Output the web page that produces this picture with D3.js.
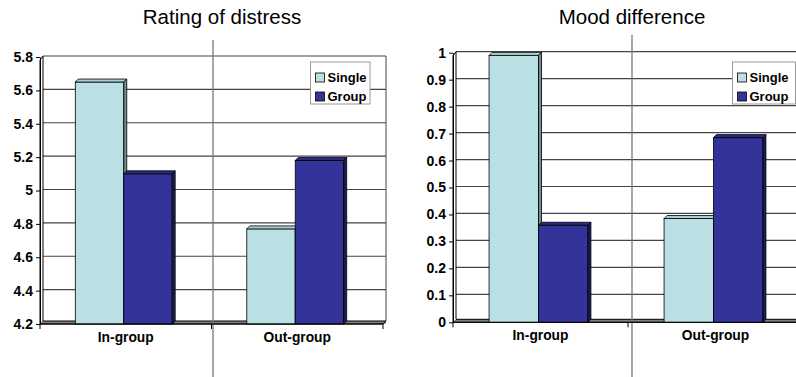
<!DOCTYPE html>
<html>
<head>
<meta charset="utf-8">
<script src="https://cdn.jsdelivr.net/npm/d3@7"></script>
<style>
  body { margin: 0; background: #fff; }
  svg { display: block; font-family: "Liberation Sans", Arial, sans-serif; }
</style>
</head>
<body>
<div id="chart"></div>
<script>
const categories = ["In-group", "Out-group"];
const series = ["Single", "Group"];
const distressSingle = [5.65, 4.77];
const distressGroup = [5.10, 5.18];
const moodSingle = [0.99, 0.385];
const moodGroup = [0.36, 0.685];
const distressTicks = [4.2, 4.4, 4.6, 4.8, 5, 5.2, 5.4, 5.6, 5.8];
const moodTicks = [0, 0.1, 0.2, 0.3, 0.4, 0.5, 0.6, 0.7, 0.8, 0.9, 1];

const colors = {
  Single: { front: "#bbe0e3", top: "#a9cfd2", side: "#6e8c8e" },
  Group: { front: "#333399", top: "#2b2b85", side: "#1c1c55" }
};
const depth = 3;

var svg = d3.select("#chart")
  .append("svg")
  .attr("width", 796)
  .attr("height", 377);

function drawChart(cfg) {
  var g = svg.append("g");

  var y = d3.scaleLinear().domain(cfg.domain).range([cfg.bottom, cfg.top]);
  var x0 = d3.scaleBand().domain(categories).range([cfg.left, cfg.right]);
  var x1 = d3.scaleBand().domain(series).range([0, x0.bandwidth()])
    .paddingInner(0).paddingOuter(0.77);

  // title
  g.append("text")
    .attr("x", cfg.titleX)
    .attr("y", 24)
    .attr("text-anchor", "middle")
    .style("font-size", "20.5px")
    .text(cfg.title);

  // back wall gridlines
  g.selectAll(".grid")
    .data(cfg.ticks)
    .enter().append("line")
    .attr("x1", cfg.left + depth)
    .attr("x2", cfg.right + depth)
    .attr("y1", d => y(d) - 1)
    .attr("y2", d => y(d) - 1)
    .attr("stroke", "#444")
    .attr("stroke-width", 1.2);

  // right edge of back wall
  g.append("line")
    .attr("x1", cfg.right + depth).attr("x2", cfg.right + depth)
    .attr("y1", cfg.top - 1).attr("y2", cfg.bottom - depth)
    .attr("stroke", "#444");

  // floor
  g.append("path")
    .attr("d", `M${cfg.left},${cfg.bottom} L${cfg.left + depth},${cfg.bottom - depth} L${cfg.right + depth},${cfg.bottom - depth} L${cfg.right},${cfg.bottom} Z`)
    .attr("fill", "#808080")
    .attr("stroke", "#000")
    .attr("stroke-width", 1);

  // left wall
  g.append("path")
    .attr("d", `M${cfg.left},${cfg.bottom} L${cfg.left},${cfg.top + depth} L${cfg.left + depth},${cfg.top - 1} L${cfg.left + depth},${cfg.bottom - depth}`)
    .attr("fill", "#fff")
    .attr("stroke", "#000")
    .attr("stroke-width", 1);

  // vertical separator line
  g.append("line")
    .attr("x1", cfg.sepX).attr("x2", cfg.sepX)
    .attr("y1", cfg.sepTop).attr("y2", 377)
    .attr("stroke", "#777")
    .attr("stroke-width", 1.3);

  // bars
  var rows = [];
  categories.forEach((c, i) => {
    series.forEach(s => rows.push({ cat: c, s: s, v: cfg.values[s][i] }));
  });

  var bars = g.selectAll(".bar")
    .data(rows)
    .enter().append("g");

  bars.each(function (d) {
    var bx = x0(d.cat) + x1(d.s) - 2;
    var bw = x1.bandwidth();
    var by = y(d.v);
    var yb = y(cfg.domain[0]);
    var sel = d3.select(this);
    sel.append("rect")
      .attr("x", bx).attr("y", by)
      .attr("width", bw).attr("height", yb - by)
      .attr("fill", colors[d.s].front)
      .attr("stroke", "#000").attr("stroke-width", 0.8);
    sel.append("path")
      .attr("d", `M${bx},${by} L${bx + depth},${by - depth} L${bx + bw + depth},${by - depth} L${bx + bw},${by} Z`)
      .attr("fill", colors[d.s].top)
      .attr("stroke", "#000").attr("stroke-width", 0.8);
    sel.append("path")
      .attr("d", `M${bx + bw},${by} L${bx + bw + depth},${by - depth} L${bx + bw + depth},${yb - depth} L${bx + bw},${yb} Z`)
      .attr("fill", colors[d.s].side)
      .attr("stroke", "#000").attr("stroke-width", 0.8);
  });

  // y axis
  var yAxis = g.append("g")
    .attr("transform", `translate(${cfg.left},0)`)
    .call(d3.axisLeft(y).tickValues(cfg.ticks).tickSize(4).tickSizeOuter(0)
      .tickFormat(d => d3.format("~g")(d)));
  yAxis.select(".domain").attr("stroke", "#000");
  yAxis.selectAll("text")
    .attr("x", -7)
    .style("font-family", "'Liberation Sans', Arial, sans-serif")
    .style("font-weight", "bold")
    .style("font-size", "14px")
    .attr("fill", "#000");

  // x axis
  var xAxis = g.append("g")
    .attr("transform", `translate(0,${cfg.bottom})`);
  xAxis.append("line")
    .attr("x1", cfg.left).attr("x2", Math.min(cfg.right, 796))
    .attr("y1", 0).attr("y2", 0)
    .attr("stroke", "#000");
  xAxis.selectAll(".xtick")
    .data([cfg.left].concat(categories.map(c => x0(c) + x0.bandwidth())))
    .enter().append("line")
    .attr("x1", d => d).attr("x2", d => d)
    .attr("y1", 0).attr("y2", 5)
    .attr("stroke", "#000");
  xAxis.selectAll(".xlabel")
    .data(categories)
    .enter().append("text")
    .attr("x", d => x0(d) + x0.bandwidth() / 2)
    .attr("y", 18)
    .attr("text-anchor", "middle")
    .style("font-weight", "bold")
    .style("font-size", "13.8px")
    .text(d => d);

  // legend
  var lg = g.append("g").attr("transform", `translate(${cfg.legendX},62)`);
  lg.append("rect")
    .attr("x", 0).attr("y", 0)
    .attr("width", cfg.legendW).attr("height", 42)
    .attr("fill", "#fff")
    .attr("stroke", "#999");
  series.forEach((s, i) => {
    lg.append("rect")
      .attr("x", 5).attr("y", 11 + i * 19)
      .attr("width", 9).attr("height", 9)
      .attr("fill", colors[s].front)
      .attr("stroke", "#000").attr("stroke-width", 0.8);
    lg.append("text")
      .attr("x", 17).attr("y", 20 + i * 19)
      .style("font-weight", "bold")
      .style("font-size", "13px")
      .text(s);
  });
}

drawChart({
  title: "Rating of distress", titleX: 222,
  domain: [4.2, 5.8], ticks: distressTicks,
  left: 40, right: 383, top: 57, bottom: 324,
  values: { Single: distressSingle, Group: distressGroup },
  sepX: 213, sepTop: 40,
  legendX: 310.5, legendW: 59.5
});

drawChart({
  title: "Mood difference", titleX: 632,
  domain: [0, 1], ticks: moodTicks,
  left: 453, right: 803, top: 52.7, bottom: 322.3,
  values: { Single: moodSingle, Group: moodGroup },
  sepX: 632, sepTop: 35,
  legendX: 732.5, legendW: 63
});
</script>
</body>
</html>
